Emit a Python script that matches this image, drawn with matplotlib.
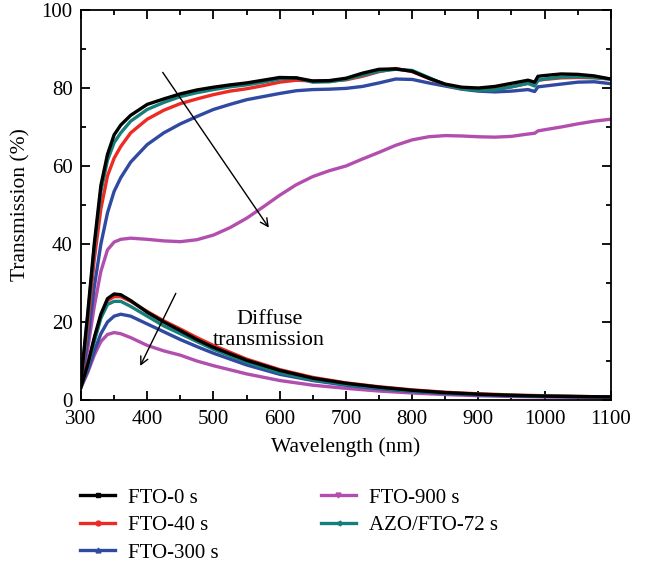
import matplotlib
matplotlib.use("Agg")
import matplotlib.pyplot as plt
from matplotlib.lines import Line2D
from matplotlib.ticker import MultipleLocator

plt.rcParams['font.family'] = ['Liberation Serif', 'DejaVu Serif']

# ---- data ----
labels = ["FTO-0 s", "FTO-40 s", "FTO-300 s", "FTO-900 s", "AZO/FTO-72 s"]
colors = ["#000000", "#ee2a24", "#2f4aa0", "#b24fae", "#15807a"]
markers = ["s", "o", "^", "v", "<"]

wl_total = [300, 310, 320, 330, 340, 350, 360, 375, 400, 425, 450, 475, 500, 525, 550,
            575, 600, 625, 650, 675, 700, 725, 750, 775, 800, 825, 850, 875, 900, 925,
            950, 975, 985, 990, 1000, 1025, 1050, 1075, 1100]

total_0 = [5, 22, 40, 55, 63, 68, 70.5, 73, 75.8, 77.2, 78.5, 79.5, 80.2, 80.8, 81.3,
           82, 82.7, 82.6, 81.8, 81.9, 82.5, 83.8, 84.8, 84.9, 84.3, 82.5, 81, 80.2, 80, 80.4,
           81.2, 82, 81.5, 83, 83.2, 83.6, 83.5, 83.1, 82.3]
total_40 = [4.5, 19, 36, 49, 57.5, 62, 65, 68.5, 72, 74.3, 76, 77.2, 78.3, 79.2, 79.8,
            80.6, 81.5, 82, 81.8, 81.8, 82.1, 83, 84.2, 85, 84.2, 82.5, 80.8, 79.8, 79.6, 79.8,
            80.3, 81.2, 80.8, 82, 82.2, 82.6, 82.7, 82.6, 82.3]
total_300 = [4, 15, 29, 40, 48, 53.5, 57, 61, 65.5, 68.5, 70.8, 72.7, 74.5, 75.8, 77,
             77.8, 78.6, 79.3, 79.6, 79.7, 79.9, 80.4, 81.3, 82.3, 82.2, 81.3, 80.5, 79.7, 79.2, 79,
             79.2, 79.6, 79.1, 80.3, 80.5, 81, 81.5, 81.6, 81.1]
total_900 = [4, 13, 24, 33, 38.5, 40.5, 41.2, 41.5, 41.2, 40.8, 40.6, 41.1, 42.3, 44.2, 46.6,
             49.5, 52.5, 55.2, 57.3, 58.8, 60, 61.8, 63.5, 65.3, 66.7, 67.5, 67.8, 67.7, 67.5, 67.4,
             67.6, 68.2, 68.4, 69, 69.3, 70, 70.8, 71.5, 72]
total_azo = [5, 21, 39, 53.5, 61.5, 66, 68.5, 71.5, 74.5, 76.3, 77.8, 78.8, 79.6, 80.3, 80.8,
             81.5, 82.3, 82.6, 81.5, 81.6, 82.2, 83.3, 84.3, 84.8, 84.5, 82.7, 80.8, 79.8, 79.4, 79.5,
             80.3, 81.2, 80.5, 82, 82.3, 82.8, 82.9, 82.7, 82.3]

wl_diffuse = [300, 310, 320, 330, 340, 350, 360, 375, 400, 425, 450, 475, 500, 550, 600,
              650, 700, 750, 800, 850, 900, 950, 1000, 1050, 1100]

diff_0 = [3.4, 9, 16, 22, 26, 27.2, 27, 25.5, 22.5, 20, 17.8, 15.5, 13.5, 10.2, 7.6,
          5.6, 4.3, 3.3, 2.5, 1.9, 1.5, 1.2, 1.0, 0.9, 0.8]
diff_40 = [3.4, 9, 15.5, 21.5, 25.5, 26.5, 26.5, 25.3, 22.7, 20.3, 18.2, 16, 14, 10.5, 7.8,
           5.8, 4.4, 3.4, 2.6, 2.0, 1.6, 1.3, 1.1, 0.9, 0.8]
diff_300 = [3.4, 7.5, 12.5, 17, 20, 21.5, 22, 21.5, 19.5, 17.5, 15.5, 13.7, 12, 9, 6.6,
            5.0, 3.8, 2.9, 2.2, 1.7, 1.3, 1.1, 0.9, 0.8, 0.7]
diff_900 = [3.2, 7, 11.5, 15, 16.8, 17.3, 17, 16, 14, 12.6, 11.5, 10, 8.8, 6.7, 5.0,
            3.8, 3.0, 2.3, 1.8, 1.4, 1.1, 0.9, 0.8, 0.7, 0.6]
diff_azo = [3.4, 8.5, 15, 21, 24.5, 25.3, 25.3, 24, 21.5, 19, 17, 15, 13, 9.7, 7.0,
            5.2, 4.0, 3.1, 2.3, 1.8, 1.4, 1.2, 1.0, 0.9, 0.8]

totals = [total_0, total_40, total_300, total_900, total_azo]
diffuses = [diff_0, diff_40, diff_300, diff_900, diff_azo]

# ---- figure ----
fig = plt.figure(figsize=(6.45, 5.65), dpi=100)
ax = fig.add_axes([0.1256, 0.292, 0.8214, 0.6903])

order = [3, 2, 1, 4, 0]
for i in order:
    ax.plot(wl_total, totals[i], color=colors[i], lw=2.4, solid_joinstyle='round')
    ax.plot(wl_diffuse, diffuses[i], color=colors[i], lw=2.4, solid_joinstyle='round')

ax.set_xlim(300, 1100)
ax.set_ylim(0, 100)
ax.xaxis.set_major_locator(MultipleLocator(100))
ax.xaxis.set_minor_locator(MultipleLocator(50))
ax.yaxis.set_major_locator(MultipleLocator(20))
ax.yaxis.set_minor_locator(MultipleLocator(10))
ax.tick_params(which='both', direction='in', top=True, right=True, labelsize=15, width=1.3)
ax.tick_params(which='major', length=6.5)
ax.tick_params(which='minor', length=3.5)
ax.tick_params(axis='x', which='major', pad=7)
ax.tick_params(axis='y', which='major', pad=6)
for s in ax.spines.values():
    s.set_linewidth(1.3)

ax.set_xlabel("Wavelength (nm)", fontsize=15.5, labelpad=6)
ax.set_ylabel("Transmission (%)", fontsize=15.5, labelpad=8)

ax.annotate("", xy=(586, 43.6), xytext=(421, 84.6),
            arrowprops=dict(arrowstyle="->", color="black", lw=1.0, mutation_scale=14))
ax.annotate("", xy=(387.5, 8.1), xytext=(445, 28),
            arrowprops=dict(arrowstyle="->", color="black", lw=1.0, mutation_scale=14))
ax.text(584, 18.0, "Diffuse\ntransmission", ha='center', va='center', fontsize=16,
        linespacing=1.1)

handles = [Line2D([0], [0], color=colors[i], lw=2.4, marker=markers[i], markersize=3.5,
                  markerfacecolor=colors[i], markeredgecolor=colors[i])
           for i in range(5)]
fig.legend(handles, labels, ncol=2, loc='upper left', bbox_to_anchor=(0.124, 0.136),
           frameon=False, fontsize=15, handlelength=1.7, handletextpad=0.6,
           columnspacing=4.9, labelspacing=0.38, borderaxespad=0, borderpad=0)

fig.savefig("out.png", dpi=100)
